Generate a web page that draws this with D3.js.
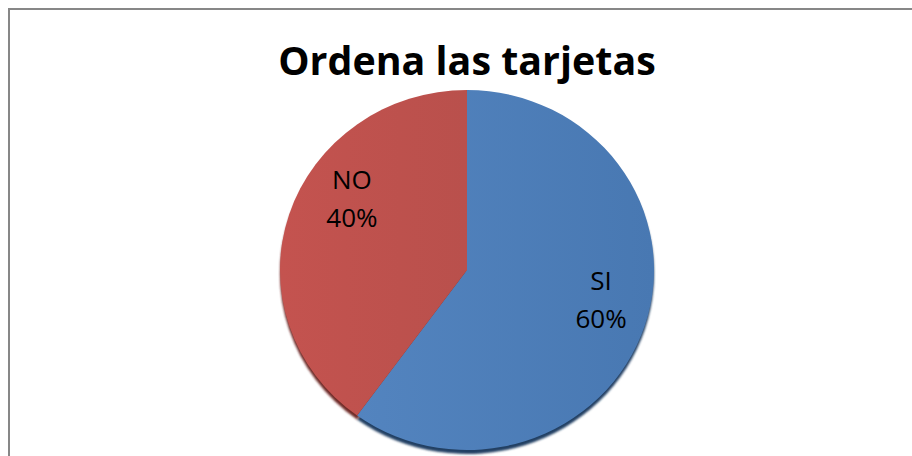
<!DOCTYPE html>
<html><head><meta charset="utf-8">
<script src="https://cdn.jsdelivr.net/npm/d3@7"></script>
<style>body{margin:0;background:#fff}svg{display:block}</style>
</head><body>
<svg id="c" width="912" height="456"></svg>
<script>
const title = "Ordena las tarjetas";
const categories = ["SI", "NO"];
const values = [60, 40];
const percentLabels = ["60%", "40%"];
const colors = ["#4F81BD", "#C0504D"];

const svg = d3.select("#c");
// chart border (extends beyond canvas right/bottom)
svg.append("rect").attr("x", 9).attr("y", 9).attr("width", 920).attr("height", 460)
  .attr("fill", "#fff").attr("stroke", "#878787").attr("stroke-width", 2);

svg.append("text").attr("x", 467).attr("y", 75).attr("text-anchor", "middle")
  .attr("font-family", "Open Sans, Liberation Sans, sans-serif").attr("font-weight", "bold")
  .attr("font-size", 39.4).attr("fill", "#000").text(title);

const cx = 467, cy = 270, rx = 187, ry = 180;
const defs = svg.append("defs");
const grads = [["g0", "#5384BF", "#4878B2"], ["g1", "#C4534F", "#B9504C"]];
grads.forEach(([id, a, b]) => {
  const g = defs.append("linearGradient").attr("id", id).attr("x1", "0").attr("x2", "1").attr("y1", "0").attr("y2", "0");
  g.append("stop").attr("offset", "0").attr("stop-color", a);
  g.append("stop").attr("offset", "1").attr("stop-color", b);
});
defs.append("filter").attr("id", "blur").append("feGaussianBlur").attr("stdDeviation", 1.2);

const pie = d3.pie().sort(null).value(d => d)(values);
const arc = d3.arc().innerRadius(0).outerRadius(rx);

// 3D edge / shadow
const edge = svg.append("g").attr("transform", `translate(${cx},${cy + 4}) scale(1,${ry / rx})`);
edge.selectAll("path").data(pie).join("path").attr("d", arc)
  .attr("fill", (d, i) => i === 0 ? "#223f63" : "#6e2a28").attr("filter", "url(#blur)");

const g = svg.append("g").attr("transform", `translate(${cx},${cy}) scale(1,${ry / rx})`);
g.selectAll("path").data(pie).join("path").attr("d", arc)
  .attr("fill", (d, i) => `url(#g${i})`);

// labels
const labelArc = d3.arc().innerRadius(rx * 0.72).outerRadius(rx * 0.72);
const adjust = [[6, -1.5], [13, -21.5]];
pie.forEach((d, i) => {
  const [x, y] = labelArc.centroid(d);
  const lx = cx + x + adjust[i][0], ly = cy + y * ry / rx + adjust[i][1];
  const t = svg.append("text").attr("text-anchor", "middle")
    .attr("font-family", "Open Sans, Liberation Sans, sans-serif").attr("font-size", 26).attr("fill", "#000");
  t.append("tspan").attr("x", lx).attr("y", ly - 19).text(categories[i]);
  t.append("tspan").attr("x", lx).attr("y", ly + 19).text(percentLabels[i]);
});
</script>
</body></html>
